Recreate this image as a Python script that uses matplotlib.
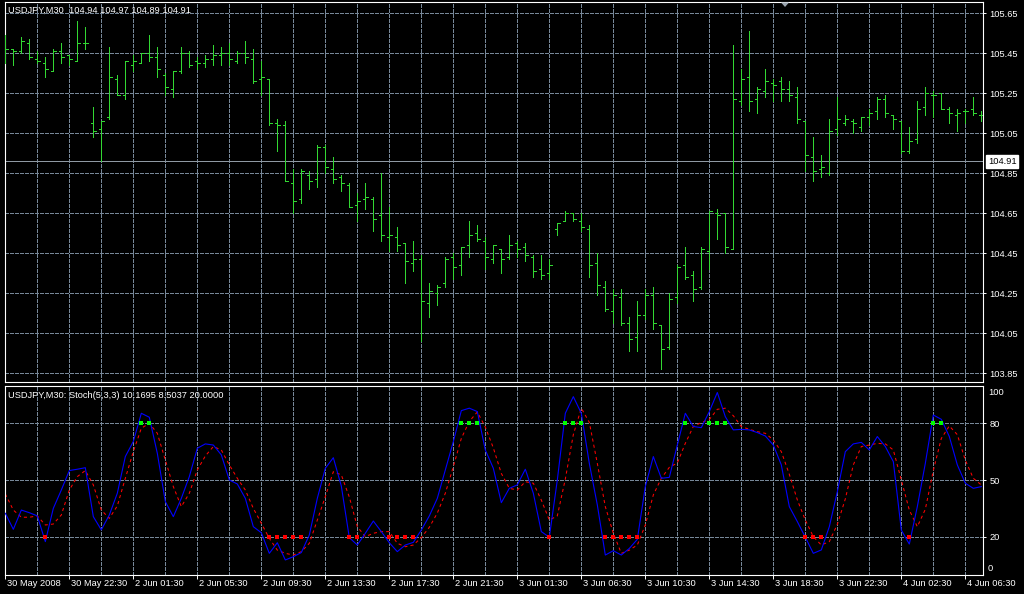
import matplotlib.pyplot as plt
from matplotlib.patches import Polygon

plt.rcParams['font.family'] = ['Liberation Sans', 'DejaVu Sans']

W, H = 1024, 594
FS = 6.7
GRID = '#778899'
BAR = '#32d732'

# USDJPY M30 bars, oldest first (open, high, low, close)
opens = [105.47, 105.47, 105.46, 105.50, 105.42, 105.40, 105.36, 105.46, 105.44, 105.41,
         105.50, 105.10, 105.07, 105.13, 105.32, 105.24, 105.39, 105.40, 105.45, 105.43,
         105.34, 105.27, 105.36, 105.45, 105.41, 105.40, 105.42, 105.44, 105.45, 105.41,
         105.45, 105.42, 105.32, 105.32, 105.10, 105.09, 104.80, 104.72, 104.84, 104.82,
         104.98, 104.87, 104.83, 104.79, 104.69, 104.72, 104.72, 104.64, 104.53, 104.53,
         104.50, 104.40, 104.42, 104.20, 104.25, 104.30, 104.43, 104.39, 104.49, 104.55,
         104.51, 104.42, 104.47, 104.43, 104.50, 104.48, 104.43, 104.37, 104.35, 104.57,
         104.61, 104.65, 104.61, 104.57, 104.40, 104.28, 104.16, 104.23, 104.10, 104.03,
         104.14, 104.24, 104.09, 103.98, 104.23, 104.39, 104.34, 104.28, 104.46, 104.65,
         104.65, 104.47, 105.21, 105.33, 105.22, 105.26, 105.30, 105.31, 105.27, 105.23,
         105.11, 104.93, 104.87, 104.85, 105.07, 105.10, 105.11, 105.08, 105.13, 105.16,
         105.22, 105.14, 105.11, 104.96, 105.02, 105.18, 105.24, 105.25, 105.17, 105.14,
         105.16, 105.17, 105.14]
highs = [105.54, 105.47, 105.53, 105.52, 105.46, 105.43, 105.47, 105.50, 105.44, 105.61,
         105.58, 105.18, 105.11, 105.48, 105.34, 105.41, 105.44, 105.45, 105.54, 105.48,
         105.35, 105.36, 105.48, 105.46, 105.43, 105.44, 105.49, 105.48, 105.50, 105.46,
         105.51, 105.47, 105.41, 105.32, 105.12, 105.11, 104.87, 104.87, 104.86, 104.99,
         104.99, 104.93, 104.84, 104.80, 104.75, 104.80, 104.73, 104.85, 104.68, 104.58,
         104.50, 104.51, 104.44, 104.30, 104.29, 104.43, 104.45, 104.48, 104.61, 104.59,
         104.53, 104.49, 104.47, 104.54, 104.51, 104.50, 104.44, 104.44, 104.42, 104.60,
         104.66, 104.65, 104.65, 104.59, 104.45, 104.31, 104.27, 104.27, 104.13, 104.21,
         104.27, 104.28, 104.09, 104.25, 104.39, 104.48, 104.36, 104.48, 104.66, 104.67,
         104.65, 105.49, 105.37, 105.56, 105.28, 105.37, 105.32, 105.33, 105.31, 105.28,
         105.11, 105.03, 104.94, 105.12, 105.23, 105.14, 105.12, 105.13, 105.17, 105.23,
         105.24, 105.14, 105.11, 105.08, 105.21, 105.28, 105.26, 105.25, 105.18, 105.17,
         105.17, 105.23, 105.16]
lows = [105.40, 105.39, 105.45, 105.42, 105.40, 105.33, 105.36, 105.40, 105.39, 105.41,
        105.47, 105.03, 104.91, 105.12, 105.24, 105.22, 105.36, 105.40, 105.41, 105.33,
        105.24, 105.23, 105.35, 105.38, 105.37, 105.38, 105.39, 105.39, 105.39, 105.40,
        105.40, 105.30, 105.24, 105.09, 104.96, 104.81, 104.65, 104.70, 104.77, 104.78,
        104.85, 104.80, 104.76, 104.68, 104.61, 104.67, 104.56, 104.51, 104.46, 104.46,
        104.30, 104.36, 104.01, 104.13, 104.19, 104.28, 104.32, 104.34, 104.43, 104.51,
        104.37, 104.40, 104.35, 104.42, 104.43, 104.41, 104.33, 104.32, 104.32, 104.54,
        104.61, 104.61, 104.56, 104.33, 104.24, 104.16, 104.10, 104.09, 103.96, 103.96,
        104.12, 104.07, 103.87, 103.97, 104.20, 104.32, 104.21, 104.27, 104.37, 104.52,
        104.45, 104.47, 105.19, 105.16, 105.15, 105.23, 105.21, 105.21, 105.21, 105.10,
        104.86, 104.81, 104.83, 104.84, 105.04, 105.09, 105.05, 105.06, 105.09, 105.12,
        105.13, 105.07, 104.95, 104.95, 105.00, 105.14, 105.13, 105.17, 105.10, 105.06,
        105.10, 105.14, 105.11]
closes = [105.47, 105.46, 105.51, 105.43, 105.41, 105.37, 105.46, 105.43, 105.42, 105.50,
          105.50, 105.06, 105.11, 105.33, 105.24, 105.41, 105.41, 105.45, 105.43, 105.37,
          105.28, 105.36, 105.45, 105.39, 105.40, 105.42, 105.44, 105.45, 105.42, 105.45,
          105.43, 105.31, 105.33, 105.10, 105.09, 104.81, 104.71, 104.86, 104.81, 104.98,
          104.88, 104.82, 104.80, 104.68, 104.71, 104.73, 104.62, 104.54, 104.54, 104.49,
          104.41, 104.42, 104.21, 104.26, 104.28, 104.42, 104.38, 104.48, 104.54, 104.52,
          104.43, 104.49, 104.42, 104.49, 104.47, 104.44, 104.36, 104.34, 104.39, 104.60,
          104.65, 104.62, 104.58, 104.39, 104.29, 104.17, 104.24, 104.10, 104.02, 104.14,
          104.24, 104.10, 103.97, 104.22, 104.38, 104.33, 104.27, 104.47, 104.66, 104.64,
          104.48, 105.22, 105.32, 105.21, 105.27, 105.31, 105.29, 105.27, 105.24, 105.12,
          104.94, 104.86, 104.88, 105.06, 105.12, 105.12, 105.10, 105.13, 105.15, 105.22,
          105.15, 105.12, 104.96, 105.01, 105.17, 105.25, 105.24, 105.17, 105.15, 105.15,
          105.16, 105.15, 105.14]

# Stoch(5,3,3): main %K and signal %D
stoch_main = [32.4, 23.9, 34.1, 32.7, 31.0, 17.4, 35.0, 44.7, 55.0, 55.7,
              56.5, 30.6, 23.6, 31.5, 43.0, 62.4, 70.4, 85.3, 83.2, 64.1,
              38.6, 30.6, 40.3, 51.8, 66.8, 69.1, 68.5, 63.3, 50.0, 47.9,
              40.3, 25.3, 22.1, 11.2, 16.8, 7.7, 9.4, 11.6, 20.9, 40.3,
              56.2, 61.8, 46.8, 19.5, 15.6, 21.8, 28.3, 22.7, 16.8, 12.1,
              15.6, 17.0, 23.5, 31.0, 40.3, 55.3, 70.3, 86.7, 88.0, 86.2,
              65.9, 56.2, 38.0, 45.6, 47.4, 55.7, 43.0, 22.7, 19.7, 50.0,
              85.3, 94.1, 85.3, 58.8, 36.8, 10.3, 12.6, 10.3, 13.8, 18.6,
              46.5, 62.4, 50.9, 51.4, 68.5, 85.3, 78.3, 77.7, 86.2, 96.3,
              83.5, 76.5, 76.8, 76.5, 75.1, 73.3, 68.5, 58.0, 35.9, 28.0,
              19.7, 11.2, 13.0, 25.3, 43.8, 65.0, 69.1, 69.9, 65.9, 73.0,
              67.7, 59.7, 23.5, 16.1, 35.9, 58.8, 84.4, 82.1, 73.0, 58.0,
              48.3, 45.6, 46.5]
stoch_signal = [42.6, 34.1, 30.3, 30.3, 31.0, 26.2, 26.7, 31.5, 44.7, 51.8,
                55.0, 47.4, 34.1, 29.7, 36.3, 50.9, 65.0, 77.4, 80.0, 74.7,
                60.6, 46.5, 35.9, 43.0, 55.3, 62.7, 67.7, 65.9, 58.0, 50.9,
                44.7, 35.0, 27.1, 19.1, 12.9, 11.2, 10.3, 12.1, 16.5, 28.8,
                41.2, 54.4, 52.7, 41.0, 25.3, 20.0, 21.8, 22.7, 22.7, 16.5,
                14.7, 15.6, 19.5, 25.0, 32.5, 43.0, 57.0, 72.0, 81.0, 86.0,
                78.0, 67.0, 53.5, 45.6, 44.7, 49.1, 48.3, 39.4, 28.8, 31.0,
                50.5, 74.0, 88.0, 80.5, 58.8, 35.9, 21.8, 11.2, 12.9, 15.6,
                26.2, 42.1, 50.9, 56.7, 59.0, 69.4, 78.3, 80.4, 82.0, 87.4,
                88.0, 84.0, 78.3, 76.8, 75.6, 74.7, 71.2, 65.0, 53.0, 39.5,
                28.8, 20.0, 15.6, 17.4, 26.5, 40.0, 58.0, 67.7, 68.5, 69.4,
                69.1, 65.9, 50.0, 34.1, 25.3, 34.5, 55.0, 72.0, 78.6, 74.0,
                60.5, 50.9, 47.4]

time_labels = ['30 May 2008', '30 May 22:30', '2 Jun 01:30', '2 Jun 05:30', '2 Jun 09:30',
               '2 Jun 13:30', '2 Jun 17:30', '2 Jun 21:30', '3 Jun 01:30', '3 Jun 06:30',
               '3 Jun 10:30', '3 Jun 14:30', '3 Jun 18:30', '3 Jun 22:30', '4 Jun 02:30',
               '4 Jun 06:30']
price_levels = [103.85, 104.05, 104.25, 104.45, 104.65, 104.85, 105.05, 105.25, 105.45, 105.65]
stoch_levels = [20, 50, 80]
current_price = 104.91
header = 'USDJPY,M30  104.94 104.97 104.89 104.91'
stoch_header = 'USDJPY,M30: Stoch(5,3,3) 10.1695 8.5037 20.0000'

n = len(opens)
idx = list(range(n))
label_step = 8
grid_x = list(range(4, n, 4))
xlim = (-0.04, 122.21)
LW = 0.6  # about one pixel


def px_axes(fig, left, top, right, bottom):
    return fig.add_axes([left / W, 1 - bottom / H, (right - left) / W, (bottom - top) / H])


def style_panel(ax):
    ax.set_facecolor('black')
    for s in ax.spines.values():
        s.set_color('white')
        s.set_linewidth(0.8)
    ax.yaxis.tick_right()
    ax.tick_params(axis='y', colors='white', labelsize=FS, length=2.2, width=0.7, pad=2.5)
    ax.set_xlim(*xlim)
    for x in grid_x:
        ax.axvline(x, color=GRID, lw=0.72, ls=(0, (3, 2)), zorder=0, antialiased=False)


fig = plt.figure(figsize=(W / 100, H / 100), dpi=100, facecolor='black')

# price panel
ax1 = px_axes(fig, 5, 2, 983, 382)
style_panel(ax1)
ax1.set_ylim(103.8067, 105.7067)
ax1.set_xticks([])
ax1.set_yticks(price_levels)
ax1.set_yticklabels([f'{p:.2f}' for p in price_levels])
for p in price_levels:
    ax1.axhline(p, color=GRID, lw=0.72, ls=(0, (3, 2)), zorder=0, antialiased=False)
ax1.axhline(current_price, color='#8f99a3', lw=LW, zorder=1, antialiased=False)

ax1.vlines(idx, lows, highs, color=BAR, lw=LW, zorder=3, antialiased=False)
ax1.hlines(opens, [i - 0.34 for i in idx], idx, color=BAR, lw=LW, zorder=3, antialiased=False)
ax1.hlines(closes, idx, [i + 0.34 for i in idx], color=BAR, lw=LW, zorder=3, antialiased=False)

ax1.annotate(f'{current_price:.2f}', xy=(1, current_price), xycoords=('axes fraction', 'data'),
             xytext=(5, 0), textcoords='offset pixels', ha='left', va='center',
             color='black', fontsize=FS, annotation_clip=False,
             bbox=dict(boxstyle='square,pad=0.2', fc='white', ec='white'))

# stochastic panel
ax2 = px_axes(fig, 5, 385.5, 983, 574.5)
style_panel(ax2)
ax2.set_ylim(0, 100)
ax2.set_yticks(stoch_levels)
ax2.set_yticklabels([str(v) for v in stoch_levels])
for v in stoch_levels:
    ax2.axhline(v, color=GRID, lw=0.72, ls=(0, (3, 2)), zorder=0, antialiased=False)
for v, dy in [(100, -7), (0, 6)]:
    ax2.annotate(str(v), xy=(1, v), xycoords=('axes fraction', 'data'), xytext=(5, dy),
                 textcoords='offset pixels', ha='left', va='center', color='white',
                 fontsize=FS, annotation_clip=False)

ax2.plot(idx, stoch_main, color='#0000ff', lw=0.8, zorder=3)
ax2.plot(idx, stoch_signal, color='#ff0000', lw=0.75, ls=(0, (3, 3)), zorder=2)

over = [i for i in idx if stoch_main[i] > 80]
under = [i for i in idx if stoch_main[i] < 20]
ax2.plot(over, [80] * len(over), ls='none', marker='s', ms=2.3, mew=0, color='#00ff00', zorder=4)
ax2.plot(under, [20] * len(under), ls='none', marker='s', ms=2.3, mew=0, color='#ff0000', zorder=4)

tick_idx = list(range(0, n, label_step))
ax2.set_xticks(tick_idx)
ax2.set_xticklabels([''] * len(tick_idx))
ax2.tick_params(axis='x', colors='white', length=3, width=0.7, direction='out')
for i, lbl in zip(tick_idx, time_labels):
    ax2.annotate(lbl, xy=(i, 0), xycoords=('data', 'axes fraction'), xytext=(2, -4),
                 textcoords='offset pixels', ha='left', va='top', color='white',
                 fontsize=FS, annotation_clip=False)

fig.text(8 / W, 1 - 10.7 / H, header, color='white', fontsize=FS, ha='left', va='center')
fig.text(8 / W, 1 - 395 / H, stoch_header, color='white', fontsize=FS, ha='left', va='center')

# chart shift marker
tri = [(781, 2.5), (789, 2.5), (785, 7)]
fig.patches.append(Polygon([(x / W, 1 - y / H) for x, y in tri], closed=True,
                           transform=fig.transFigure, fc='#9aa4ae', ec='none'))

fig.savefig('out.png', dpi=100, facecolor='black')
